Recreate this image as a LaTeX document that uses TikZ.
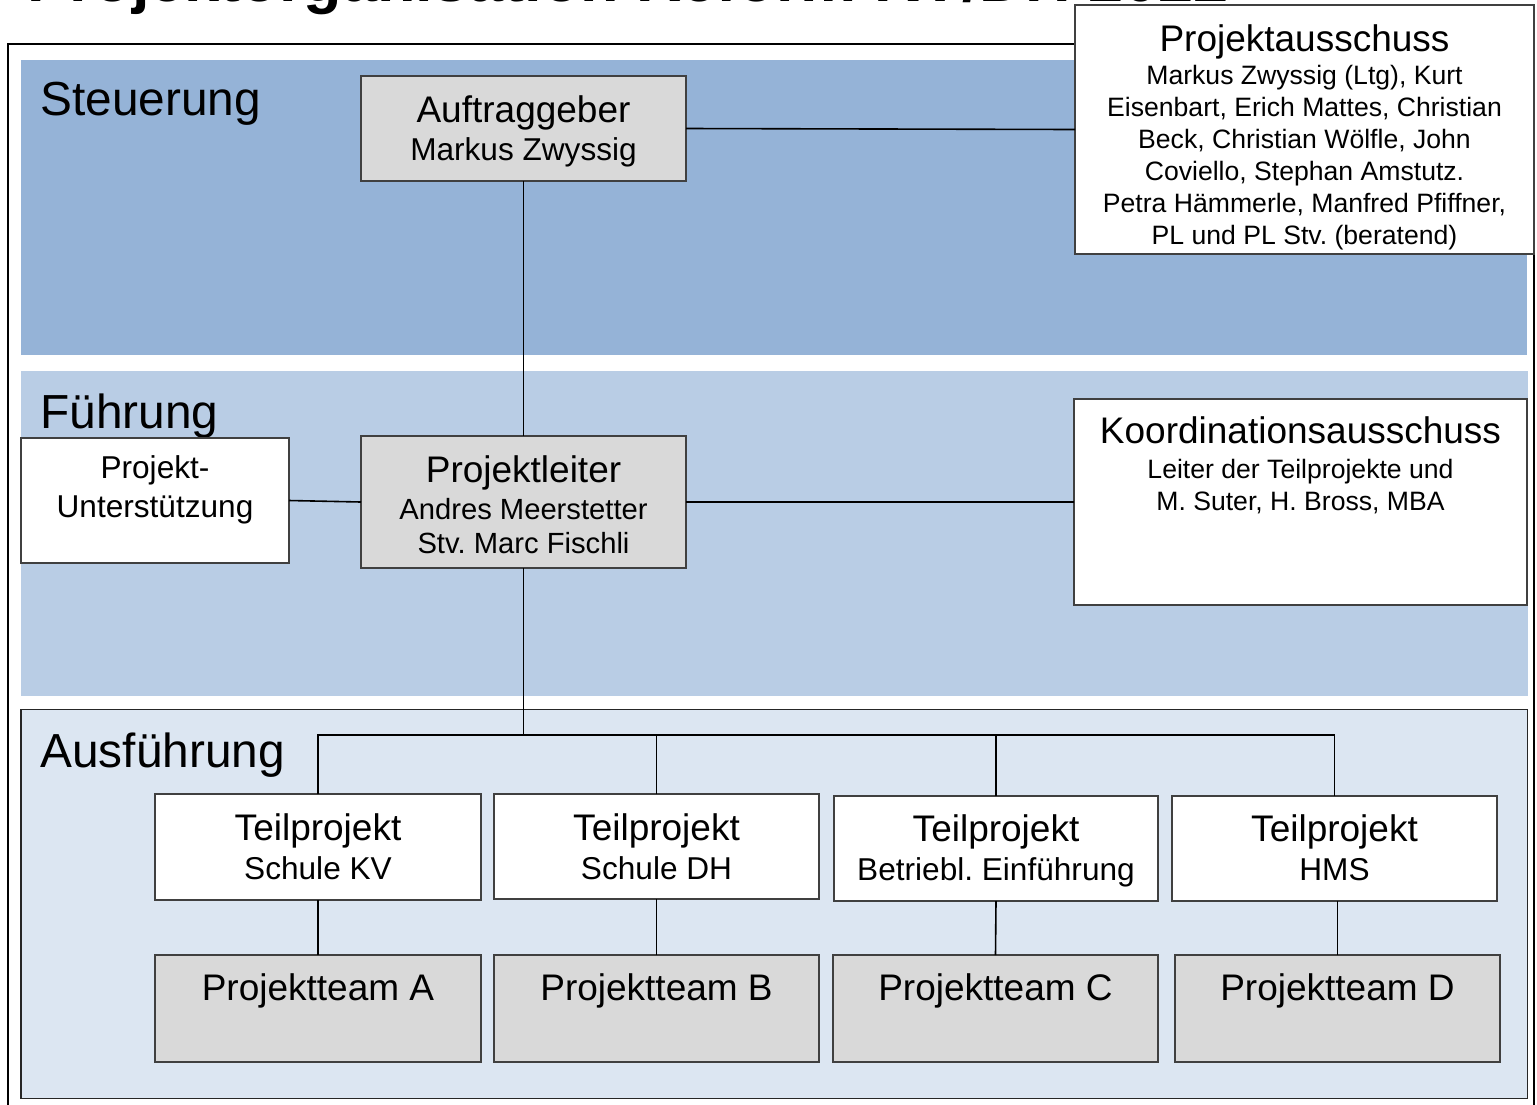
\documentclass[tikz,border=0pt]{standalone}
\usepackage{fontspec}
\setmainfont{Liberation Sans}
\definecolor{steuer}{HTML}{95B3D7}
\definecolor{fuehr}{HTML}{B9CDE5}
\definecolor{ausf}{HTML}{DCE6F2}
\definecolor{boxgray}{HTML}{D9D9D9}
\definecolor{boxline}{HTML}{404040}
\begin{document}
\frenchspacing
\begin{tikzpicture}[x=0.5pt,y=-0.5pt,
 box/.style={draw=boxline, line width=0.6pt, inner sep=0pt, outer sep=0pt, rectangle},
 whitebox/.style={box, fill=white},
 graybox/.style={box, fill=boxgray},
 txt/.style={anchor=base, inner sep=0pt, outer sep=0pt},
 fband/.style={font=\fontsize{23.9}{28}\selectfont, anchor=base west, inner sep=0pt},
 fhead/.style={txt, font=\fontsize{18.5}{22}\selectfont},
 fsub/.style={txt, font=\fontsize{15.8}{19}\selectfont},
 fpl/.style={txt, font=\fontsize{14.6}{17}\selectfont},
 fsmall/.style={txt, font=\fontsize{13.3}{16}\selectfont},
 conn/.style={draw=black, line width=0.8pt},
]
\useasboundingbox (0,0) rectangle (1537,1104);
\begin{scope}
\clip (0,0) rectangle (1537,1104);

% title (clipped at top)
\node[anchor=base west, inner sep=0pt, font=\bfseries\fontsize{31.5}{36}\selectfont] (title) at (27,1) {Projektorganisation Reform KV/DH 2022};

% outer frame
\draw[line width=1pt] (8,1120) -- (8,44) -- (1534,44) -- (1534,1120);

% bands
\fill[steuer] (21,59.5) rectangle (1527,354.5);
\fill[fuehr] (21,371) rectangle (1528,695.5);
\draw[draw=black!85, line width=0.7pt, fill=ausf] (21,709.5) rectangle (1527.5,1098.5);

\node[fband] (lsteuer) at (40,115) {Steuerung};
\node[fband] (lfuehr) at (40,428) {Führung};
\node[fband] (lausf) at (40,767) {Ausführung};

% boxes
\node[graybox, minimum width=162.5pt, minimum height=52.5pt] (auf) at (523.5,128.5) {};
\node[whitebox, minimum width=229.5pt, minimum height=124.5pt] (pa) at (1304.5,129.5) {};
\node[graybox, minimum width=162.5pt, minimum height=66pt] (pl) at (523.5,502) {};
\node[whitebox, minimum width=134pt, minimum height=62.5pt] (pu) at (155,500.5) {};
\node[whitebox, minimum width=226.5pt, minimum height=103pt] (ka) at (1300.5,502) {};

\node[whitebox, minimum width=163pt, minimum height=53pt] (tpA) at (318,847) {};
\node[whitebox, minimum width=162.5pt, minimum height=52.5pt] (tpB) at (656.5,846.5) {};
\node[whitebox, minimum width=162pt, minimum height=52.5pt] (tpC) at (996,848.5) {};
\node[whitebox, minimum width=162.5pt, minimum height=52.5pt] (tpD) at (1334.5,848.5) {};

\node[graybox, minimum width=163pt, minimum height=53.5pt] (teamA) at (318,1008.5) {};
\node[graybox, minimum width=162.5pt, minimum height=53.5pt] (teamB) at (656.5,1008.5) {};
\node[graybox, minimum width=162.5pt, minimum height=53.5pt] (teamC) at (995.5,1008.5) {};
\node[graybox, minimum width=162.5pt, minimum height=53.5pt] (teamD) at (1337.5,1008.5) {};

% connectors
\draw[conn] (auf.east) -- (pa.west);
\draw[conn] (auf.south) -- (pl.north);
\draw[conn] (pu.east) -- (pl.west);
\draw[conn] (pl.east) -- (ka.west);
\coordinate (bus) at (523.5,735);
\draw[conn] (pl.south) -- (bus);
\draw[conn] (tpA.north) |- (bus) -| (tpD.north);
\draw[conn] (tpB.north) -- (tpB.north |- bus);
\draw[conn] (tpC.north) -- (tpC.north |- bus);
\draw[conn] (tpA.south) -- (teamA.north);
\draw[conn] (tpB.south) -- (teamB.north);
\draw[conn] (tpC.south) -- (teamC.north);
\draw[conn] (teamD.north) -- (teamD.north |- tpD.south);

% texts
\node[fhead] (aufT) at (523.5,122) {Auftraggeber};
\node[fsub] (aufN) at (523.5,160) {Markus Zwyssig};

\node[fhead] (paT) at (1304.5,51) {Projektausschuss};
\node[fsmall] (pa1) at (1304.5,84) {Markus Zwyssig (Ltg), Kurt};
\node[fsmall] (pa2) at (1304.5,116) {Eisenbart, Erich Mattes, Christian};
\node[fsmall] (pa3) at (1304.5,148) {Beck, Christian Wölfle, John};
\node[fsmall] (pa4) at (1304.5,180) {Coviello, Stephan Amstutz.};
\node[fsmall] (pa5) at (1304.5,212) {Petra Hämmerle, Manfred Pfiffner,};
\node[fsmall] (pa6) at (1304.5,244) {PL und PL Stv. (beratend)};

\node[fhead] (plT) at (523.5,482) {Projektleiter};
\node[fpl] (pl1) at (523.5,519) {Andres Meerstetter};
\node[fpl] (pl2) at (523.5,553) {Stv. Marc Fischli};

\node[fsub] (pu1) at (155,478) {Projekt-};
\node[fsub] (pu2) at (155,517) {Unterstützung};

\node[fhead] (kaT) at (1300.5,443) {Koordinationsausschuss};
\node[fsmall] (ka1) at (1300.5,478) {Leiter der Teilprojekte und};
\node[fsmall] (ka2) at (1300.5,510) {M. Suter, H. Bross, MBA};

\node[fhead] (tpAT) at (318,840) {Teilprojekt};
\node[fsub] (tpAS) at (318,879) {Schule KV};
\node[fhead] (tpBT) at (656.5,840) {Teilprojekt};
\node[fsub] (tpBS) at (656.5,879) {Schule DH};
\node[fhead] (tpCT) at (996,841) {Teilprojekt};
\node[fsub] (tpCS) at (996,880) {Betriebl. Einführung};
\node[fhead] (tpDT) at (1334.5,841) {Teilprojekt};
\node[fsub] (tpDS) at (1334.5,880) {HMS};

\node[fhead] (teamAT) at (318,1000) {Projektteam A};
\node[fhead] (teamBT) at (656.5,1000) {Projektteam B};
\node[fhead] (teamCT) at (995.5,1000) {Projektteam C};
\node[fhead] (teamDT) at (1337.5,1000) {Projektteam D};
\end{scope}
\end{tikzpicture}
\end{document}
